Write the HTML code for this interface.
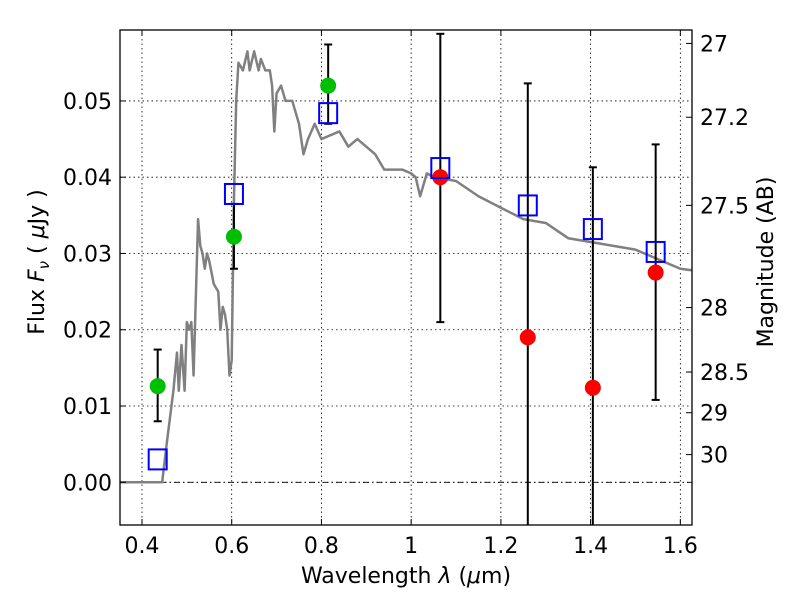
<!DOCTYPE html>
<html><head><meta charset="utf-8"><style>
body{margin:0;background:#fff;}
svg{display:block;font-family:"DejaVu Sans","Liberation Sans",sans-serif;}
</style></head><body>
<svg id="chart" width="800" height="600" viewBox="0 0 800 600" xmlns="http://www.w3.org/2000/svg"></svg>
<script>
const xTicks=[0.4,0.6,0.8,1,1.2,1.4,1.6];
const xTickLabels=["0.4","0.6","0.8","1","1.2","1.4","1.6"];
const yTicks=[0,0.01,0.02,0.03,0.04,0.05];
const yTickLabels=["0.00","0.01","0.02","0.03","0.04","0.05"];
const magTicks=[27,27.2,27.5,28,28.5,29,30];
const magTickLabels=["27","27.2","27.5","28","28.5","29","30"];
const sedWave=[0.35,0.445,0.455,0.47,0.478,0.482,0.488,0.495,0.50,0.505,0.51,0.515,0.525,0.53,0.535,0.54,0.545,0.55,0.56,0.57,0.575,0.58,0.585,0.59,0.595,0.60,0.605,0.61,0.615,0.625,0.635,0.64,0.65,0.66,0.665,0.675,0.685,0.69,0.695,0.70,0.71,0.72,0.735,0.745,0.75,0.76,0.77,0.785,0.80,0.82,0.84,0.86,0.88,0.90,0.92,0.94,0.96,0.98,1.0,1.01,1.02,1.035,1.05,1.1,1.15,1.2,1.25,1.3,1.35,1.4,1.5,1.6,1.625];
const sedFlux=[0,0,0.005,0.012,0.017,0.012,0.018,0.012,0.021,0.020,0.021,0.014,0.0345,0.031,0.030,0.028,0.030,0.029,0.026,0.025,0.020,0.023,0.022,0.020,0.014,0.016,0.037,0.050,0.055,0.054,0.0565,0.054,0.0565,0.054,0.0555,0.054,0.054,0.052,0.046,0.051,0.052,0.050,0.050,0.048,0.047,0.043,0.045,0.047,0.045,0.0455,0.046,0.044,0.045,0.044,0.043,0.041,0.041,0.041,0.0405,0.040,0.0375,0.0405,0.040,0.0395,0.0375,0.036,0.0345,0.034,0.032,0.0315,0.0305,0.028,0.0278];
const modelWave=[0.435,0.605,0.815,1.065,1.26,1.405,1.545];
const modelFlux=[0.003,0.0378,0.0484,0.0412,0.0363,0.0332,0.0302];
const greenWave=[0.435,0.605,0.815];
const greenFlux=[0.0126,0.0322,0.052];
const greenLo=[0.008,0.028,0.047];
const greenHi=[0.0174,0.0365,0.0574];
const redWave=[1.065,1.26,1.405,1.545];
const redFlux=[0.040,0.019,0.0124,0.0275];
const redLo=[0.021,-0.01,-0.01,0.0108];
const redHi=[0.0588,0.0523,0.0413,0.0443];

const L=120,R=692,T=30,B=525;
const xmin=0.351,xmax=1.626,ymin=-0.0056,ymax=0.0593;
const X=v=>L+(v-xmin)/(xmax-xmin)*(R-L);
const Y=v=>B-(v-ymin)/(ymax-ymin)*(B-T);
const svg=document.getElementById('chart');
const NS='http://www.w3.org/2000/svg';
function mk(tag,attrs,parent){const e=document.createElementNS(NS,tag);for(const k in attrs)e.setAttribute(k,attrs[k]);(parent||svg).appendChild(e);return e;}

const defs=mk('defs',{});
const cp=mk('clipPath',{id:'clip'},defs);mk('rect',{x:L,y:T,width:R-L,height:B-T},cp);

const grid=mk('g',{});


xTicks.forEach(t=>{mk('line',{x1:X(t),x2:X(t),y1:T,y2:B,stroke:'#000','stroke-width':0.8,'stroke-dasharray':'1.5,3'},grid);});
yTicks.forEach(t=>{mk('line',{x1:L,x2:R,y1:Y(t),y2:Y(t),stroke:'#000','stroke-width':0.8,'stroke-dasharray':'1.5,3'},grid);});
const zl=mk('line',{x1:L,x2:R,y1:Y(0),y2:Y(0),stroke:'#000','stroke-width':0.8,'stroke-dasharray':'6,3,1.5,3'});



const plot=mk('g',{'clip-path':'url(#clip)'});
const sed=mk('polyline',{points:sedWave.map((w,i)=>X(w)+','+Y(sedFlux[i])).join(' '),fill:'none',stroke:'#808080','stroke-width':2.5,'stroke-linejoin':'round'},plot);



function errbar(w,lo,hi,name){
  const g=mk('g',{},plot);
  
  
  mk('line',{x1:X(w),x2:X(w),y1:Y(lo),y2:Y(hi),stroke:'#000','stroke-width':2},g);
  mk('line',{x1:X(w)-4,x2:X(w)+4,y1:Y(lo),y2:Y(lo),stroke:'#000','stroke-width':2},g);
  mk('line',{x1:X(w)-4,x2:X(w)+4,y1:Y(hi),y2:Y(hi),stroke:'#000','stroke-width':2},g);
}
greenWave.forEach((w,i)=>errbar(w,greenLo[i],greenHi[i],'green-errorbar'));
redWave.forEach((w,i)=>errbar(w,redLo[i],redHi[i],'red-errorbar'));
greenWave.forEach((w,i)=>{const c=mk('circle',{cx:X(w),cy:Y(greenFlux[i]),r:8,fill:'#00bf00'},plot);

});
redWave.forEach((w,i)=>{const c=mk('circle',{cx:X(w),cy:Y(redFlux[i]),r:8,fill:'#ff0000'},plot);

});
modelWave.forEach((w,i)=>{const s=mk('rect',{x:X(w)-9,y:Y(modelFlux[i])-10,width:18,height:20,fill:'none',stroke:'#0000ff','stroke-width':2},plot);

});

const frame=mk('rect',{x:L,y:T,width:R-L,height:B-T,fill:'none',stroke:'#000','stroke-width':1.3});



xTicks.forEach((t,i)=>{
  mk('line',{x1:X(t),x2:X(t),y1:B,y2:B-6,stroke:'#000'});
  mk('line',{x1:X(t),x2:X(t),y1:T,y2:T+6,stroke:'#000'});
  const tx=mk('text',{x:X(t),y:B+28,'font-size':22,'text-anchor':'middle'});tx.textContent=xTickLabels[i];
  
  
});
yTicks.forEach((t,i)=>{
  mk('line',{x1:L,x2:L+6,y1:Y(t),y2:Y(t),stroke:'#000'});
  const tx=mk('text',{x:L-8,y:Y(t)+8,'font-size':22,'text-anchor':'end'});tx.textContent=yTickLabels[i];
  
  
});
magTicks.forEach((m,i)=>{
  const f=Math.pow(10,(23.9-m)/2.5);const y=Y(f);
  mk('line',{x1:R,x2:R-6,y1:y,y2:y,stroke:'#000'});
  const tx=mk('text',{x:R+8,y:y+8,'font-size':22});tx.textContent=magTickLabels[i];
  
  
});
const xl=mk('text',{x:406,y:583,'font-size':22,'text-anchor':'middle'});
xl.innerHTML='Wavelength  <tspan font-style="italic">λ</tspan> (<tspan font-style="italic">μ</tspan>m)';


const yl=mk('text',{x:0,y:0,'font-size':22,'text-anchor':'middle',transform:'translate(44,262) rotate(-90)'});
yl.innerHTML='Flux  <tspan font-style="italic">F</tspan><tspan font-style="italic" font-size="15" dy="5">ν</tspan><tspan dy="-5">  (  </tspan><tspan font-style="italic">μ</tspan>Jy )';


const rl=mk('text',{x:0,y:0,'font-size':22,'text-anchor':'middle',transform:'translate(773,262) rotate(-90)'});
rl.textContent='Magnitude (AB)';


</script>
</body></html>
